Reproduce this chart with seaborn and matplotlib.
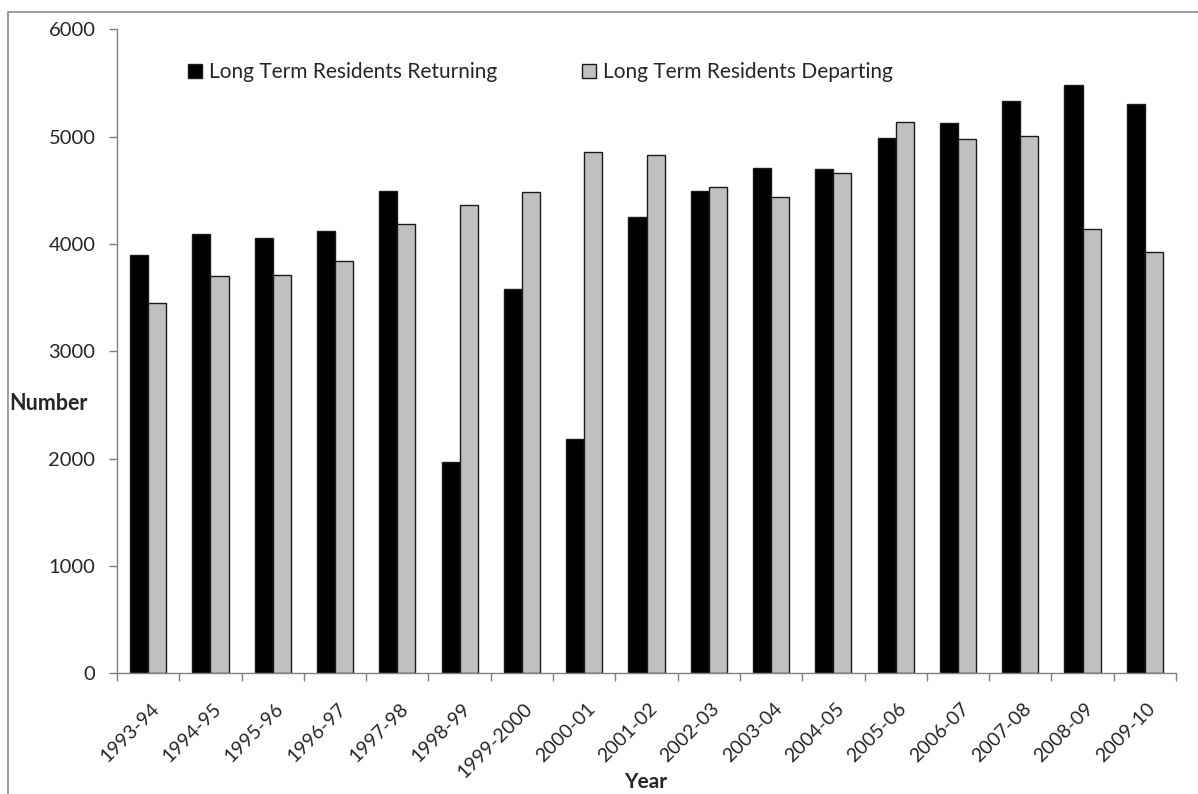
import matplotlib
matplotlib.use("Agg")
import matplotlib.pyplot as plt
import matplotlib.transforms as mtransforms
import seaborn as sns
import pandas as pd
from matplotlib.patches import Rectangle
from matplotlib.ticker import FixedLocator

years = ["1993-94", "1994-95", "1995-96", "1996-97", "1997-98", "1998-99",
         "1999-2000", "2000-01", "2001-02", "2002-03", "2003-04", "2004-05",
         "2005-06", "2006-07", "2007-08", "2008-09", "2009-10"]
returning = [3900, 4095, 4060, 4120, 4495, 1965, 3580, 2180, 4255, 4495,
             4710, 4700, 4990, 5125, 5335, 5480, 5300]
departing = [3450, 3700, 3715, 3840, 4185, 4365, 4480, 4860, 4825, 4535,
             4435, 4665, 5135, 4975, 5010, 4140, 3930]
series_names = ["Long Term Residents Returning", "Long Term Residents Departing"]
y_ticks = [0, 1000, 2000, 3000, 4000, 5000, 6000]

df = pd.DataFrame({
    "Year": years * 2,
    "Number": returning + departing,
    "Series": [series_names[0]] * len(years) + [series_names[1]] * len(years),
})

sns.set_theme(style="white")
plt.rcParams["font.family"] = ["Lato", "DejaVu Sans"]

W, H = 1198, 794
fig = plt.figure(figsize=(W / 100, H / 100), dpi=100)
ax = fig.add_axes([117 / W, 1 - 673.4 / H, 1059 / W, 644.1 / H])

sns.barplot(data=df, x="Year", y="Number", hue="Series", order=years,
            hue_order=series_names, palette=["#000000", "#C0C0C0"],
            width=0.58, edgecolor="#1a1a1a", linewidth=1.0, ax=ax,
            errorbar=None)

ax.set_xlim(-0.5, len(years) - 0.5)
ax.set_ylim(0, 6000)
ax.set_yticks(y_ticks)
ax.set_yticklabels([str(v) for v in y_ticks], fontsize=14.5)

# Category labels at group centres; tick marks at group boundaries
ax.set_xticks(range(len(years)))
ax.set_xticklabels(years, rotation=45, ha="right", va="top",
                   rotation_mode="anchor", fontsize=14)
ax.tick_params(axis="x", which="major", length=0, pad=19)
shift = mtransforms.ScaledTranslation(2 / 100, 0, fig.dpi_scale_trans)
for lbl in ax.get_xticklabels():
    lbl.set_transform(lbl.get_transform() + shift)
ax.xaxis.set_minor_locator(FixedLocator([i - 0.5 for i in range(len(years) + 1)]))
ax.tick_params(axis="x", which="minor", length=6, color="#808080", width=1,
               bottom=True)
ax.tick_params(axis="y", which="major", length=6, color="#808080", width=1,
               left=True, pad=9.5)

for side in ("top", "right"):
    ax.spines[side].set_visible(False)
for side in ("left", "bottom"):
    ax.spines[side].set_color("#808080")
    ax.spines[side].set_linewidth(1.0)

ax.set_xlabel("")
ax.set_ylabel("")
fig.text(9 / W, 1 - 403 / H, "Number", fontsize=15.5, fontweight="bold",
         ha="left", va="center")
fig.text(646 / W, 1 - 782 / H, "Year", fontsize=15, fontweight="bold",
         ha="center", va="center")

leg = ax.legend(loc="upper left", bbox_to_anchor=(0.0495, 0.978), ncol=2,
                frameon=False, fontsize=15, handlelength=0.68,
                handleheight=0.68, handletextpad=0.3, columnspacing=4.1)
for h in leg.legend_handles:
    h.set_edgecolor("#1a1a1a")
    h.set_linewidth(1.0)

# Outer chart frame
fig.patches.append(Rectangle((7.5 / W, -0.05), 1.2, 1 - 11.5 / H + 0.05,
                             transform=fig.transFigure, fill=False,
                             edgecolor="#8c8c8c", linewidth=1.2))

fig.savefig("out.png", dpi=100, facecolor="white")
